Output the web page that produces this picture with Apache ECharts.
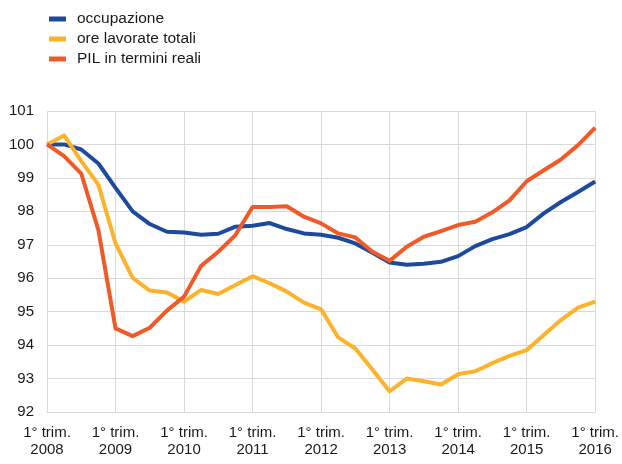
<!DOCTYPE html>
<html>
<head>
<meta charset="utf-8">
<script src="https://cdn.jsdelivr.net/npm/echarts@6/dist/echarts.min.js"></script>
<style>
  html, body { margin: 0; padding: 0; background: #fff; }
  #chart { width: 622px; height: 464px; }
</style>
</head>
<body>
<div id="chart"></div>
<script>
// Quarterly index levels, 1° trim. 2008 = 100
const quarters = [];
for (let y = 2008; y <= 2016; y++) {
  for (let q = 1; q <= 4; q++) {
    if (y === 2016 && q > 1) break;
    quarters.push(q + '° trim.\n' + y);
  }
}

const occupazione = [
  100.0, 100.0, 99.85, 99.43, 98.7, 98.0, 97.62, 97.39, 97.37, 97.3, 97.33,
  97.54, 97.57, 97.65, 97.47, 97.34, 97.3, 97.21, 97.04, 96.76, 96.47,
  96.4, 96.43, 96.49, 96.66, 96.96, 97.17, 97.32, 97.53, 97.94, 98.28, 98.58, 98.89
];
const oreLavorate = [
  100.0, 100.27, 99.5, 98.8, 97.04, 96.01, 95.63, 95.57, 95.3, 95.65, 95.53,
  95.8, 96.06, 95.85, 95.6, 95.27, 95.07, 94.23, 93.9, 93.26, 92.62,
  93.0, 92.92, 92.82, 93.13, 93.22, 93.46, 93.68, 93.85, 94.3, 94.75, 95.12, 95.3
];
const pilReale = [
  100.0, 99.65, 99.13, 97.44, 94.5, 94.27, 94.52, 95.03, 95.45, 96.37, 96.79,
  97.29, 98.13, 98.13, 98.15, 97.84, 97.64, 97.34, 97.22, 96.79, 96.52,
  96.94, 97.24, 97.41, 97.59, 97.69, 97.97, 98.33, 98.9, 99.23, 99.55, 99.98, 100.5
];

const seriesNames = ['occupazione', 'ore lavorate totali', 'PIL in termini reali'];
const seriesData = [occupazione, oreLavorate, pilReale];
const colors = ['#1d4a9b', '#fdb22b', '#f05a28'];

const font = 'Liberation Sans, Arial, sans-serif';
const chart = echarts.init(document.getElementById('chart'), null, { renderer: 'canvas' });

chart.setOption({
  animation: false,
  color: colors,
  legend: {
    orient: 'vertical',
    left: 49,
    top: 11,
    padding: 0,
    itemWidth: 17,
    itemHeight: 5,
    itemGap: 4,
    icon: 'rect',
    data: seriesNames,
    textStyle: { fontFamily: font, fontSize: 15.5, color: '#1a1a1a', padding: [0, 0, 0, 6] }
  },
  grid: { left: 47, right: 24, top: 111, bottom: 52 },
  xAxis: {
    type: 'category',
    data: quarters,
    boundaryGap: false,
    axisLine: { show: true, lineStyle: { color: '#d9d9d9', width: 1 } },
    axisTick: { show: false },
    axisLabel: {
      interval: 3,
      margin: 12,
      fontFamily: font,
      fontSize: 15,
      color: '#1a1a1a',
      lineHeight: 17
    },
    splitLine: { show: true, interval: 3, lineStyle: { color: '#d9d9d9', width: 1 } }
  },
  yAxis: {
    type: 'value',
    min: 92,
    max: 101,
    interval: 1,
    axisLine: { show: false },
    axisTick: { show: false },
    axisLabel: { margin: 13, fontFamily: font, fontSize: 15, color: '#1a1a1a' },
    splitLine: { show: true, lineStyle: { color: '#d9d9d9', width: 1 } }
  },
  series: seriesNames.map((name, i) => ({
    name: name,
    type: 'line',
    data: seriesData[i],
    symbol: 'none',
    lineStyle: { width: 4, color: colors[i], join: 'round' },
    z: 3 + i
  }))
});
</script>
</body>
</html>
